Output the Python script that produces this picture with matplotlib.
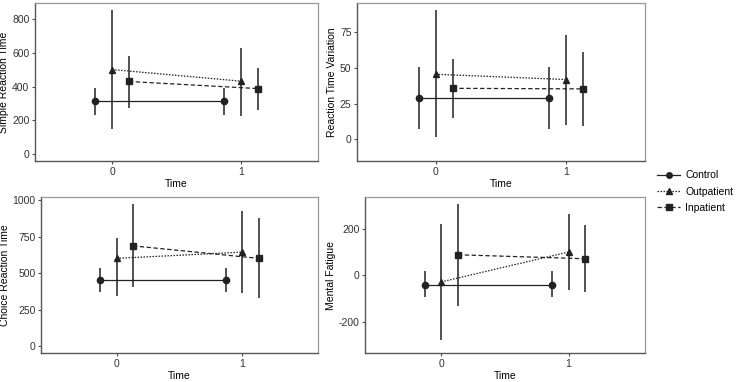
import matplotlib
matplotlib.use("Agg")
import matplotlib.pyplot as plt
from matplotlib.lines import Line2D

plt.rcParams['font.family'] = ['Liberation Sans', 'DejaVu Sans']
plt.rcParams['axes.unicode_minus'] = False

times = [0, 1]
groups = ["Control", "Outpatient", "Inpatient"]
titles = ["Simple Reaction Time", "Reaction Time Variation",
          "Choice Reaction Time", "Mental Fatigue"]

# means / lower / upper per panel, per group, for time 0 and 1
srt_mean = {"Control": [315, 315], "Outpatient": [502, 433], "Inpatient": [431, 389]}
srt_low = {"Control": [234, 234], "Outpatient": [147, 224], "Inpatient": [274, 260]}
srt_high = {"Control": [395, 395], "Outpatient": [855, 633], "Inpatient": [585, 514]}

rtv_mean = {"Control": [29, 29], "Outpatient": [45.4, 41.7], "Inpatient": [35.6, 35.2]}
rtv_low = {"Control": [7, 7], "Outpatient": [1.6, 10.3], "Inpatient": [15.2, 9.6]}
rtv_high = {"Control": [50.5, 50.5], "Outpatient": [90.2, 72.9], "Inpatient": [55.7, 60.6]}

crt_mean = {"Control": [452, 452], "Outpatient": [602, 645], "Inpatient": [688, 602]}
crt_low = {"Control": [368, 368], "Outpatient": [341, 364], "Inpatient": [409, 330]}
crt_high = {"Control": [534, 534], "Outpatient": [740, 927], "Inpatient": [975, 877]}

mf_mean = {"Control": [-40, -40], "Outpatient": [-28, 100], "Inpatient": [88, 71]}
mf_low = {"Control": [-93, -93], "Outpatient": [-276, -64], "Inpatient": [-129, -71]}
mf_high = {"Control": [18, 18], "Outpatient": [219, 261], "Inpatient": [304, 215]}

panels = [
    (srt_mean, srt_low, srt_high, (-42, 898), [0, 200, 400, 600, 800]),
    (rtv_mean, rtv_low, rtv_high, (-15, 95), [0, 25, 50, 75]),
    (crt_mean, crt_low, crt_high, (-47, 1023), [0, 250, 500, 750, 1000]),
    (mf_mean, mf_low, mf_high, (-332, 335), [-200, 0, 200]),
]

offsets = {"Control": -0.13, "Outpatient": 0.0, "Inpatient": 0.13}
markers = {"Control": "o", "Outpatient": "^", "Inpatient": "s"}
styles = {"Control": "-", "Outpatient": (0, (1.2, 1.2)), "Inpatient": (0, (3.5, 2))}

W, H = 736, 382
boxes = [(35, 3, 318, 161), (357, 3, 645, 161), (41, 197, 318, 353), (365, 197, 645, 353)]

fig = plt.figure(figsize=(W / 100, H / 100), dpi=100)
fig.patch.set_facecolor("white")

for (mean, low, high, ylim, yticks), box, title in zip(panels, boxes, titles):
    l, t, r, b = box
    ax = fig.add_axes([l / W, 1 - b / H, (r - l) / W, (b - t) / H])
    for g in groups:
        xs = [tm + offsets[g] for tm in times]
        ax.vlines(xs, low[g], high[g], color="#222222", lw=1.1, zorder=2)
        ax.plot(xs, mean[g], color="#222222", lw=0.9, ls=styles[g],
                marker=markers[g], markersize=4.5, zorder=3)
    ax.set_xlim(-0.6, 1.6)
    ax.set_ylim(*ylim)
    ax.set_xticks(times)
    ax.set_yticks(yticks)
    ax.set_xlabel("Time", fontsize=7.5, color="black", labelpad=1.5)
    ax.set_ylabel(title, fontsize=7.5, color="black", labelpad=2)
    ax.tick_params(labelsize=7.5, length=2.5, width=0.8, colors="#4d4d4d",
                   labelcolor="#333333", pad=1.5)
    for s in ["top", "right"]:
        ax.spines[s].set_color("#999999")
        ax.spines[s].set_linewidth(0.9)
    for s in ["left", "bottom"]:
        ax.spines[s].set_color("#555555")
        ax.spines[s].set_linewidth(1.0)

handles = [Line2D([], [], color="#222222", lw=0.9, ls=styles[g], marker=markers[g],
                  markersize=4) for g in groups]
fig.legend(handles, groups, loc="upper left", bbox_to_anchor=(648 / W, 1 - 161 / H),
           frameon=False, fontsize=7.5, handlelength=2.2, labelspacing=0.6,
           handletextpad=0.5)

fig.savefig("out.png", dpi=100)
